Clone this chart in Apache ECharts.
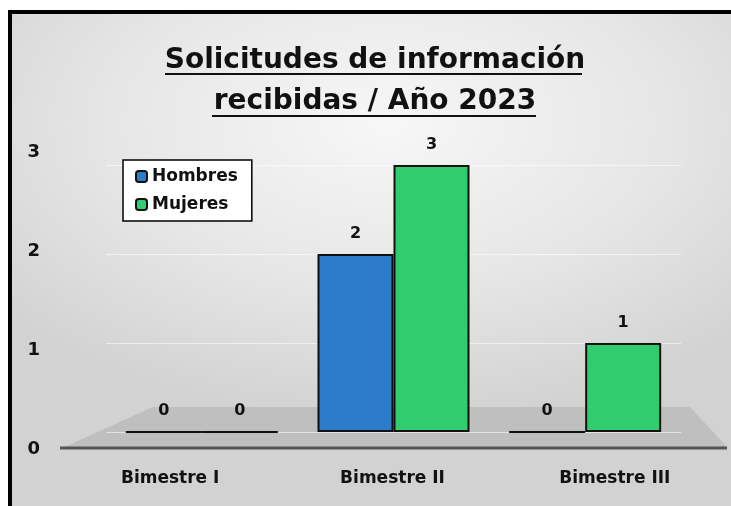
<!DOCTYPE html>
<html>
<head>
<meta charset="utf-8">
<script src="https://cdn.jsdelivr.net/npm/echarts@6/dist/echarts.min.js"></script>
<style>
    html, body { margin: 0; padding: 0; background: #fff; }
    #frame {
        position: absolute; left: 8px; top: 10px; width: 723px; height: 496px;
        border-left: 4px solid #000; border-top: 4px solid #000;
        background: radial-gradient(ellipse 70% 60% at 52% 22%, #f7f7f7 0%, #e6e6e6 55%, #d2d2d2 100%);
    }
    #chart { position: absolute; left: 0; top: 0; width: 731px; height: 506px; }
</style>
</head>
<body>
<div id="frame"></div>
<div id="chart"></div>
<script>
const categories = ["Bimestre I", "Bimestre II", "Bimestre III"];
const hombres = [0, 2, 0];
const mujeres = [0, 3, 1];
const tickValues = [0, 1, 2, 3];

const FONT = "DejaVu Sans";
const chart = echarts.init(document.getElementById("chart"));

const labelStyle = {
    show: true,
    position: "top",
    distance: 12,
    color: "#111",
    fontFamily: FONT,
    fontWeight: "bold",
    fontSize: 16
};

chart.setOption({
    animation: false,
    title: {
        text: "Solicitudes de información\nrecibidas / Año 2023",
        left: 370,
        textAlign: "center",
        top: 35,
        textStyle: {
            fontFamily: FONT,
            fontWeight: "bold",
            fontSize: 28,
            lineHeight: 41,
            color: "#111"
        }
    },
    legend: {
        orient: "vertical",
        left: 123,
        top: 160,
        padding: [8, 14, 8, 12],
        itemGap: 11,
        itemWidth: 11,
        itemHeight: 11,
        backgroundColor: "#fff",
        borderColor: "#000",
        borderWidth: 1.5,
        borderRadius: 0,
        textStyle: { fontFamily: FONT, fontSize: 17, fontWeight: "bold", color: "#111" },
        data: ["Hombres", "Mujeres"]
    },
    graphic: [
        // floor slab
        {
            type: "polygon", z: -1, silent: true,
            shape: { points: [[60, 449], [153, 407], [690, 407], [727, 447]] },
            style: { fill: "#bfbfbf" }
        },
        {
            type: "line", z: -1, silent: true,
            shape: { x1: 60, y1: 448, x2: 727, y2: 448 },
            style: { stroke: "#555", lineWidth: 3 }
        },
        // title underline
        {
            type: "line", silent: true,
            shape: { x1: 165, y1: 74, x2: 582, y2: 74 },
            style: { stroke: "#111", lineWidth: 2 }
        },
        {
            type: "line", silent: true,
            shape: { x1: 212, y1: 116, x2: 536, y2: 116 },
            style: { stroke: "#111", lineWidth: 2 }
        }
    ],
    grid: [
        // bars (front plane of the 3D box)
        { left: 106, right: 50, top: 165, bottom: 74 },
        // axis labels (outer frame)
        { left: 59, right: 5, top: 152, bottom: 57 }
    ],
    xAxis: [
        { type: "category", gridIndex: 0, data: categories, show: false },
        {
            type: "category",
            gridIndex: 1,
            data: categories,
            axisLine: { show: false },
            axisTick: { show: false },
            axisLabel: {
                margin: 21,
                fontFamily: FONT,
                fontWeight: "bold",
                fontSize: 17,
                color: "#111"
            }
        }
    ],
    yAxis: [
        {
            type: "value",
            gridIndex: 0,
            min: 0,
            max: 3,
            interval: 1,
            axisLabel: { show: false },
            axisLine: { show: false },
            axisTick: { show: false },
            splitLine: { lineStyle: { color: "rgba(255,255,255,0.55)", width: 1 } }
        },
        {
            type: "value",
            gridIndex: 1,
            min: 0,
            max: 3,
            interval: 1,
            axisLine: { show: false },
            axisTick: { show: false },
            splitLine: { show: false },
            axisLabel: {
                margin: 19,
                fontFamily: FONT,
                fontWeight: "bold",
                fontSize: 18,
                color: "#111",
                formatter: (v) => (tickValues.includes(v) ? String(v) : "")
            }
        }
    ],
    series: [
        {
            name: "Hombres",
            type: "bar",
            xAxisIndex: 0,
            yAxisIndex: 0,
            data: hombres,
            barWidth: 76,
            barGap: "0%",
            itemStyle: { color: "#2c7dc9", borderColor: "#111", borderWidth: 2 },
            label: labelStyle
        },
        {
            name: "Mujeres",
            type: "bar",
            xAxisIndex: 0,
            yAxisIndex: 0,
            data: mujeres,
            barWidth: 76,
            barGap: "0%",
            itemStyle: { color: "#30cc6e", borderColor: "#111", borderWidth: 2 },
            label: labelStyle
        }
    ]
});
</script>
</body>
</html>
